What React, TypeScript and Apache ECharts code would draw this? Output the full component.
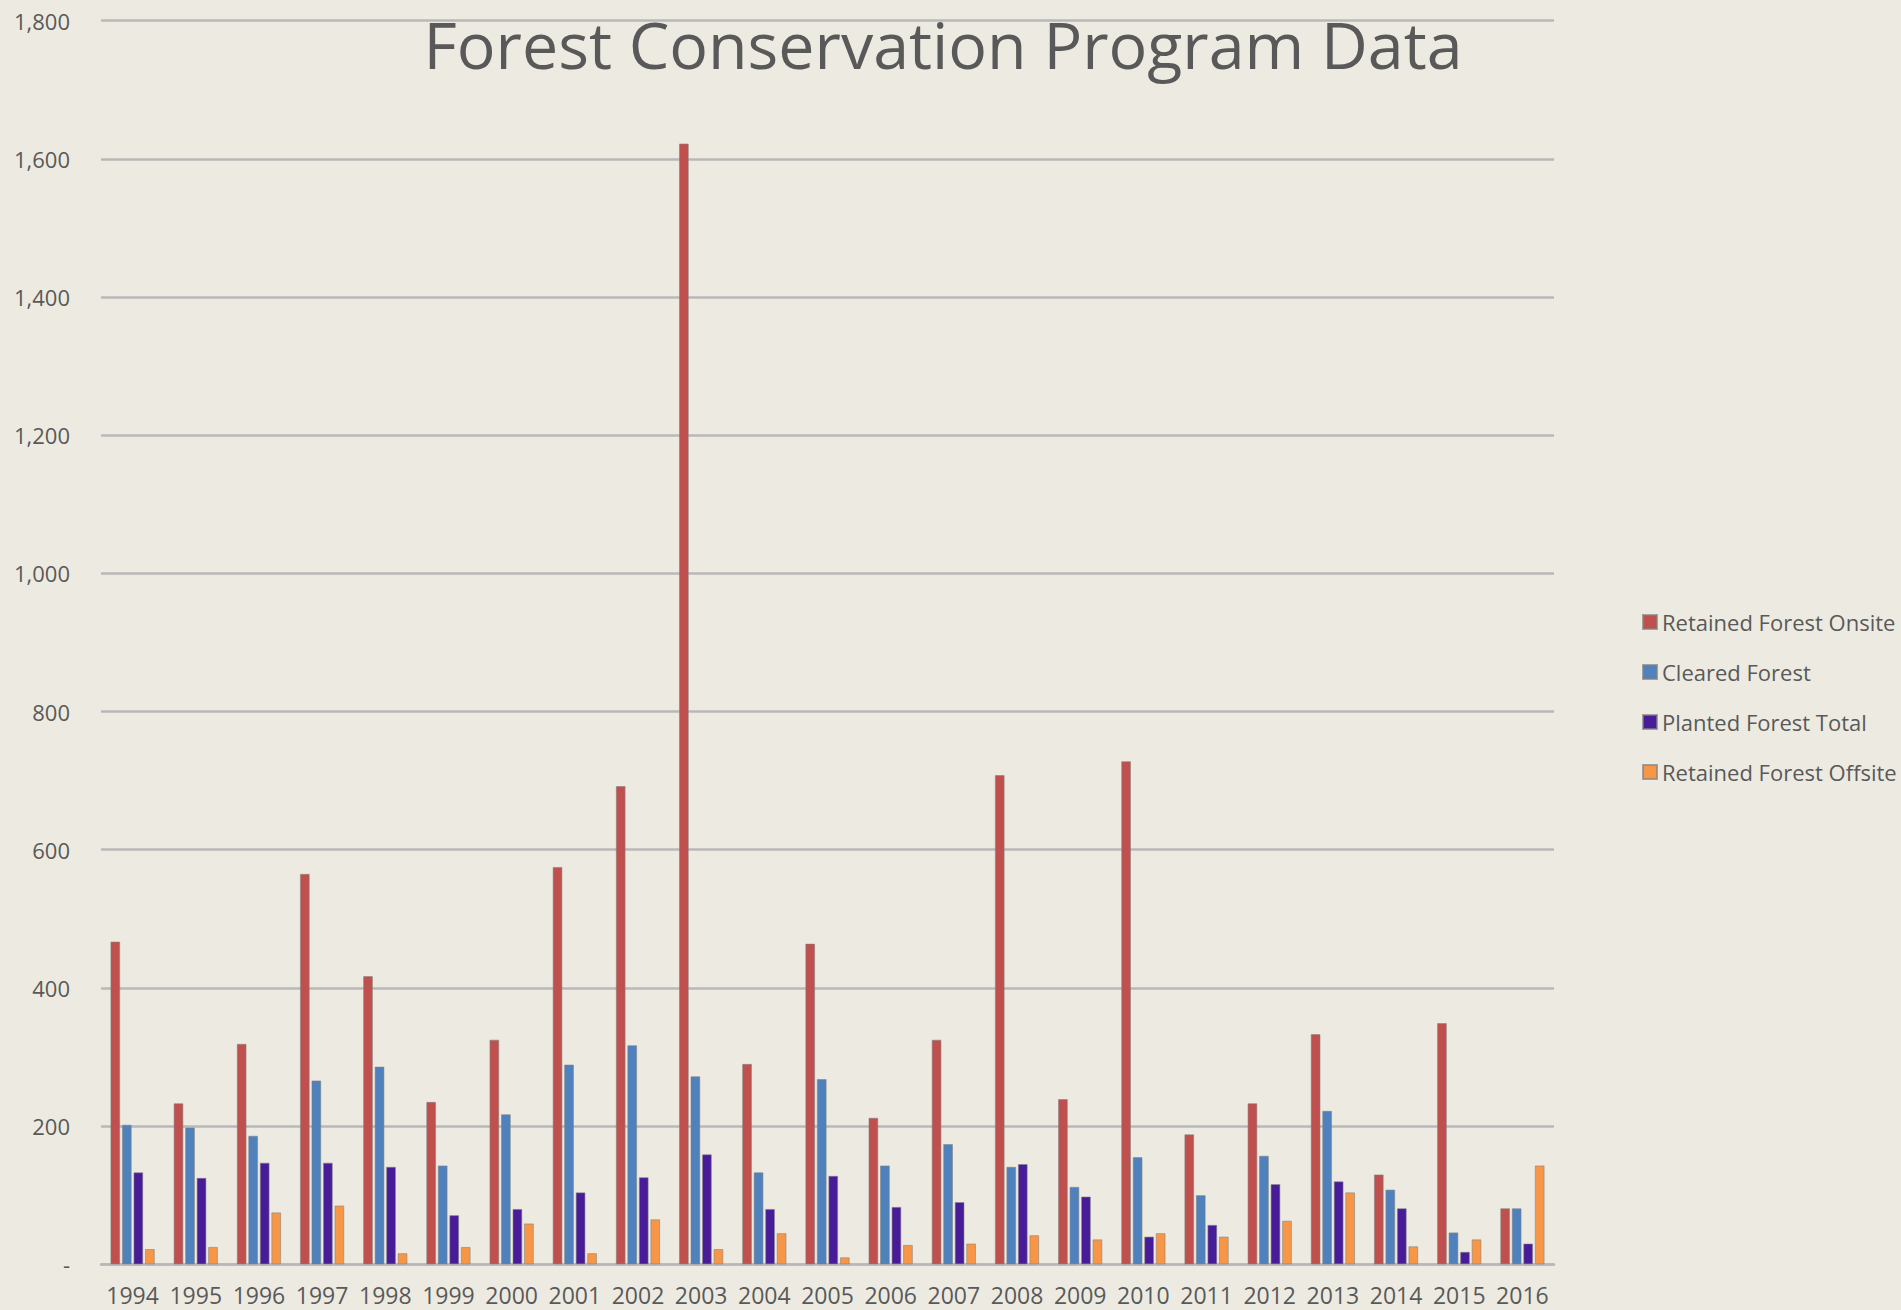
import React, { useEffect, useRef } from "react";
import * as echarts from "echarts";

const years = ["1994","1995","1996","1997","1998","1999","2000","2001","2002","2003","2004","2005","2006","2007","2008","2009","2010","2011","2012","2013","2014","2015","2016"];
const retainedOnsite = [467,233,319,565,417,235,325,575,692,1622,290,464,212,325,708,239,728,188,233,333,130,349,81];
const clearedForest = [202,198,186,266,286,143,217,289,317,272,133,268,143,174,141,112,155,100,157,222,108,46,81];
const plantedTotal = [133,125,147,147,141,71,80,104,126,159,80,128,83,90,145,98,40,57,116,120,81,18,30];
const retainedOffsite = [22,25,75,85,16,25,59,16,65,22,45,10,28,30,42,36,45,40,63,104,26,36,143];

const seriesNames = ["Retained Forest Onsite","Cleared Forest","Planted Forest Total","Retained Forest Offsite"];
const seriesColors = ["#C0504D","#4F81BD","#481B99","#F79646"];
const seriesData = [retainedOnsite, clearedForest, plantedTotal, retainedOffsite];

const FONT = "'Open Sans', 'Noto Sans', sans-serif";

export default function App() {
  const ref = useRef<HTMLDivElement>(null);
  useEffect(() => {
    if (!ref.current) return;
    const chart = echarts.init(ref.current, null, { renderer: "svg" });
    chart.setOption({
      animation: false,
      backgroundColor: "#EDEBE1",
      textStyle: { fontFamily: FONT },
      grid: { left: 101, right: 347, top: 20.6, bottom: 45.7, containLabel: false },
      legend: {
        orient: "vertical",
        left: 1637,
        top: 606,
        itemWidth: 14,
        itemHeight: 14,
        itemGap: 28,
        icon: "rect",
        textStyle: { fontSize: 22, color: "#595959", fontFamily: FONT },
        data: seriesNames,
      },
      xAxis: {
        type: "category",
        data: years,
        axisLine: { show: true, lineStyle: { color: "#B8B8B8", width: 2.5 } },
        axisTick: { show: false },
        axisLabel: { fontSize: 23, color: "#595959", margin: 19, fontFamily: FONT, interval: 0 },
      },
      yAxis: {
        type: "value",
        min: 0,
        max: 1800,
        interval: 200,
        axisLine: { show: false },
        axisTick: { show: false },
        axisLabel: {
          fontSize: 22,
          color: "#595959",
          margin: 31,
          fontFamily: FONT,
          formatter: (v: number) => (v === 0 ? "-" : v.toLocaleString("en-US")),
        },
        splitLine: { show: true, lineStyle: { color: "#B8B8B8", width: 2.5 } },
      },
      series: seriesNames.map((name, i) => ({
        name,
        type: "bar",
        data: seriesData[i],
        barWidth: 9.6,
        barGap: "20%",
        itemStyle: { color: seriesColors[i], borderColor: "rgba(130,130,130,0.7)", borderWidth: 0.8 },
      })),
      graphic: [
        {
          type: "text",
          x: 943,
          y: 44,
          z: 100,
          style: {
            text: "Forest Conservation Program Data",
            textAlign: "center",
            textVerticalAlign: "middle",
            fontSize: 64.5,
            lineHeight: 70,
            fill: "#595959",
            fontFamily: FONT,
          },
        },
      ],
    });
    return () => chart.dispose();
  }, []);
  return <div ref={ref} style={{ position: "absolute", left: 0, top: 0, width: 1901, height: 1310 }} />;
}
